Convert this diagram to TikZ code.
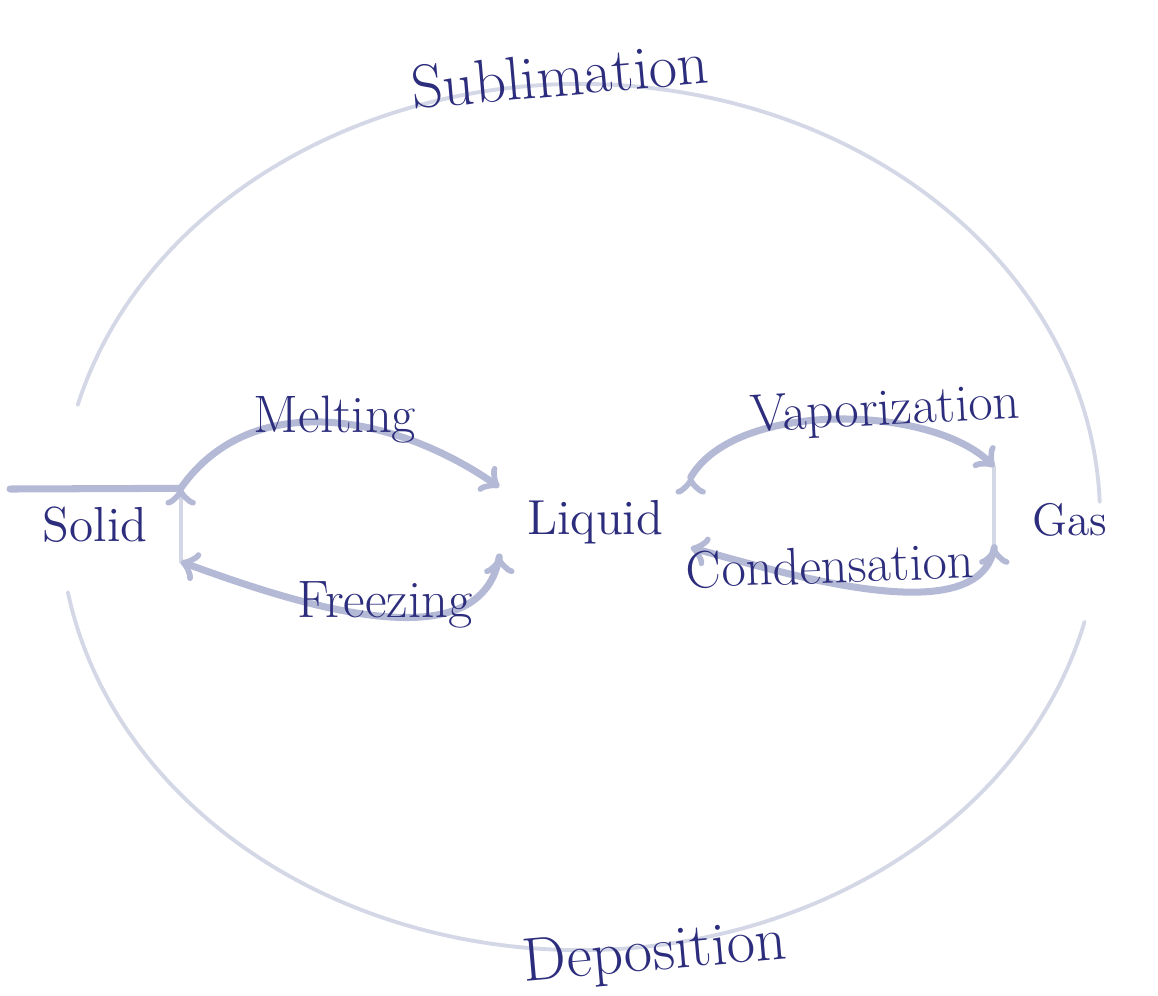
\documentclass[tikz,border=0pt]{standalone}
\usepackage{tikz}
\usetikzlibrary{arrows}
\definecolor{ink}{RGB}{45,45,125}
\definecolor{pencil}{RGB}{180,186,214}
\definecolor{faint}{RGB}{212,215,230}

\begin{document}
\begin{tikzpicture}[>=to]
      \tikzset{
	  phase/.style={text=ink, inner sep=0em, font=\fontsize{14}{16}\selectfont},
	  process/.style={text=ink, inner sep=0em, font=\fontsize{15}{18}\selectfont},
	  bigprocess/.style={text=ink, inner sep=0em, font=\fontsize{17.5}{20}\selectfont},
	  flow/.style={pencil, line width=2pt, line cap=round},
	  bigarc/.style={faint, line width=1.1pt, line cap=round},
      }
      \useasboundingbox (0, 0) rectangle (11.58, -9.95);

      % the three states
      \node (solid) at (0.95, -5.25) [phase, minimum width=1.7cm, minimum height=0.72cm] {Solid};
      \node (liquid) at (5.95, -5.22) [phase, minimum width=1.9cm, minimum height=1.2cm] {Liquid};
      \node (gas) at (10.7, -5.2) [phase, font=\fontsize{13}{15}\selectfont, minimum width=1.5cm, minimum height=1.05cm] {Gas};
      \draw [flow] (0.1, -4.89) -- (solid.north east);
      \draw [flow, faint, line width=1.2pt] (solid.north east) -- (solid.south east);
      \draw [flow, faint, line width=1.2pt] (gas.north west) -- (gas.200);

      % solid <-> liquid
      \draw [flow,->,out=55,in=145] (solid.north east) edge (liquid.160);
      \node (melt) at (3.35, -4.2) [process] {Melting};
      \draw [flow,->,out=-100,in=-20,looseness=0.9] (liquid.200) edge (solid.south east);
      \node (freeze) at (3.85, -6.05) [process] {Freezing};

      % liquid <-> gas
      \draw [flow,->,out=60,in=135,looseness=0.75] (liquid.25) edge (gas.north west);
      \node (vap) at (8.85, -4.12) [process, rotate=3] {Vaporization};
      \draw [flow,->,out=-100,in=-15,looseness=0.75] (gas.200) edge (liquid.-15);
      \node (cond) at (8.3, -5.65) [process, rotate=2] {Condensation};

      % solid <-> gas, the big ring
      \coordinate (mid) at (5.8, -5.17);
      \draw [bigarc] (mid) ++(165:5.2cm and 4.33cm) arc [start angle=165, end angle=2, x radius=5.2cm, y radius=4.33cm];
      \draw [bigarc] (mid) ++(-14:5.2cm and 4.33cm) arc [start angle=-14, end angle=-170, x radius=5.2cm, y radius=4.33cm];
      \node (subl) at (5.6, -0.75) [bigprocess, rotate=5] {Sublimation};
      \node (depo) at (6.55, -9.55) [bigprocess, rotate=5] {Deposition};
    \end{tikzpicture}
\end{document}
